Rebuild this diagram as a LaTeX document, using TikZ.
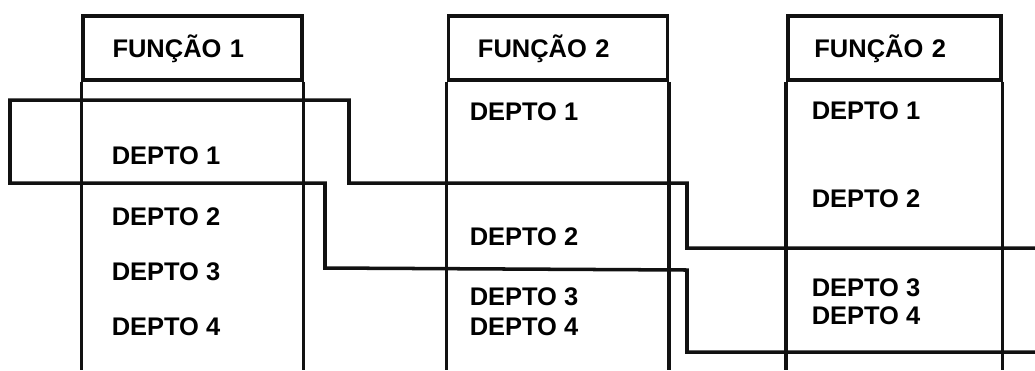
\documentclass[tikz,border=0pt]{standalone}
\usepackage{fontspec}
\setmainfont{Liberation Sans}
\usetikzlibrary{positioning}
\definecolor{Ink}{HTML}{111111}
\definecolor{White}{HTML}{FFFFFF}

\begin{document}
\begin{tikzpicture}[x=0.02cm, y=-0.02cm, line width=2pt]
  \tikzstyle{header} = [rectangle, draw=Ink, minimum width=4.38cm, minimum height=1.28cm, text width=3.2cm, inner xsep=0.52cm, align=left, text height=0.37cm, text depth=0pt, font=\fontsize{14.5}{16}\selectfont\bfseries]
  \tikzstyle{depto} = [inner sep=0pt, anchor=west, font=\fontsize{14.5}{16}\selectfont\bfseries]
  \tikzstyle{side} = [draw=Ink]
  \tikzstyle{band} = [draw=Ink, line join=miter]

  \fill[White] (0,0) rectangle (1035,370);
  \useasboundingbox (0,0) rectangle (1035,370);
  \coordinate (bot) at (0,370);

  \node [header] (fn1) at (192.5,48) {FUNÇÃO 1};
  \node [header, right=2.86cm of fn1] (fn2) {FUNÇÃO 2};
  \node [header, right=2.34cm of fn2, minimum width=4.26cm] (fn3) {FUNÇÃO 2};

  \draw[side] (fn1.south west) -- (fn1.south west |- bot);
  \draw[side] (fn1.south east) -- (fn1.south east |- bot);
  \draw[side] (fn2.south west) -- (fn2.south west |- bot);
  \draw[side] (fn2.south east) -- (fn2.south east |- bot);
  \draw[side] (fn3.south west) -- (fn3.south west |- bot);
  \draw[side] (fn3.south east) -- (fn3.south east |- bot);

  \node [depto] (a1) at (110,156) {DEPTO 1};
  \node [depto] (a2) at (110,217) {DEPTO 2};
  \node [depto] (a3) at (110,272) {DEPTO 3};
  \node [depto] (a4) at (110,327) {DEPTO 4};

  \node [depto] (b1) at (468,112) {DEPTO 1};
  \node [depto] (b2) at (468,237) {DEPTO 2};
  \node [depto] (b3) at (468,297) {DEPTO 3};
  \node [depto] (b4) at (468,327) {DEPTO 4};

  \node [depto] (c1) at (810,111) {DEPTO 1};
  \node [depto] (c2) at (810,199) {DEPTO 2};
  \node [depto] (c3) at (810,288) {DEPTO 3};
  \node [depto] (c4) at (810,316) {DEPTO 4};

  % faixa do depto 1 passando pelas colunas
  \draw[band] (1035,248) -- (687,248) -- (687,183) -- (349,183) -- (349,100)
    -- (10,100) -- (10,183) -- (325,183) -- (325,268) -- (687,270)
    -- (687,352) -- (1035,352);
\end{tikzpicture}
\end{document}
